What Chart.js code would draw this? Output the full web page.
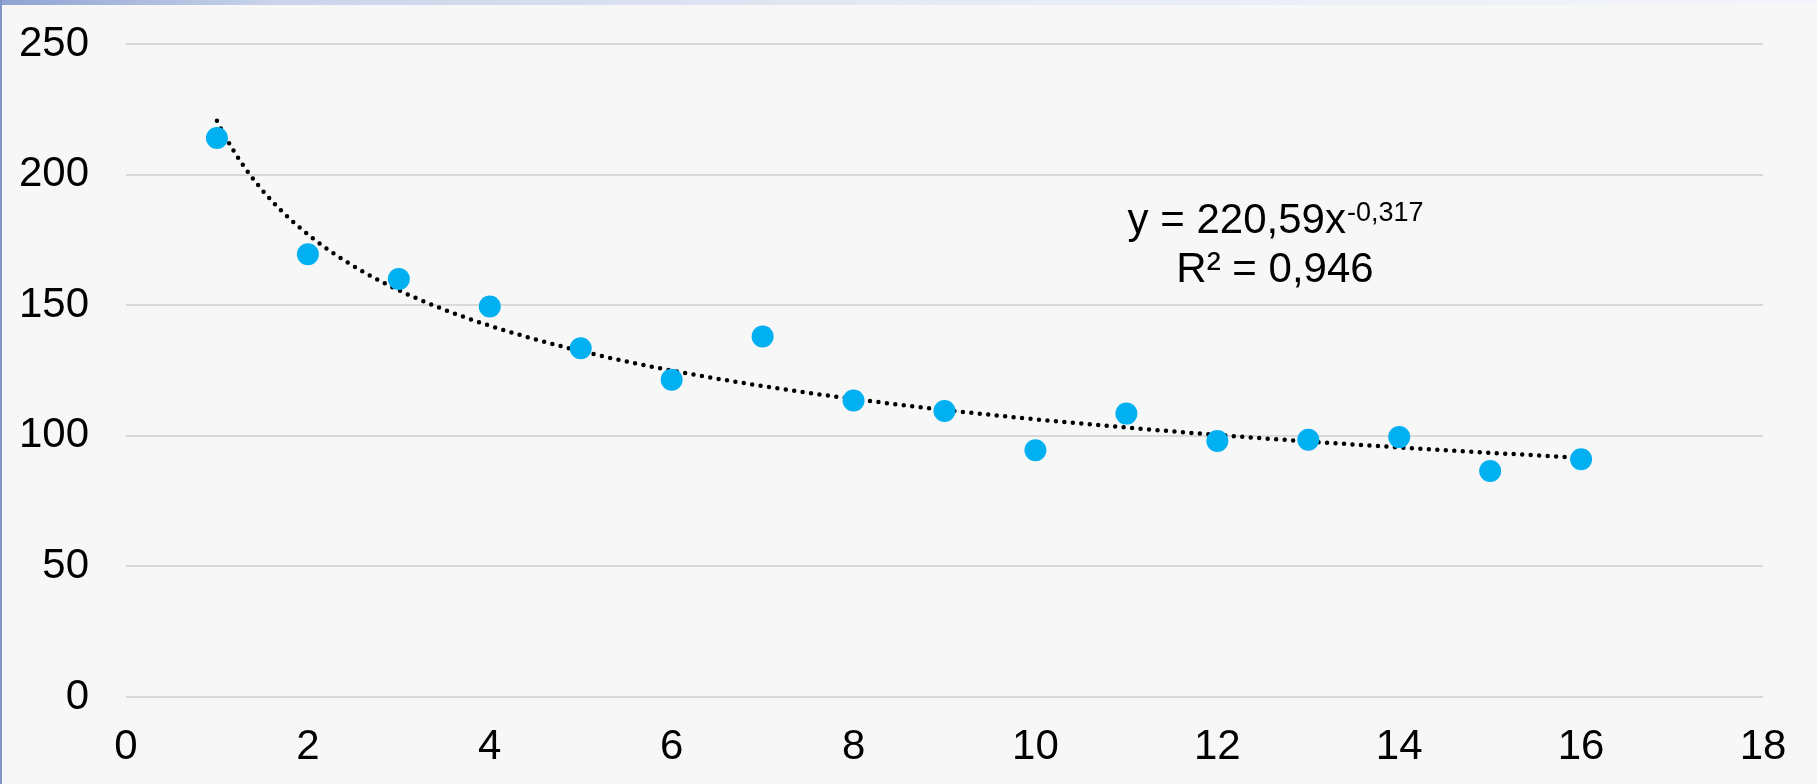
<!DOCTYPE html>
<html>
<head>
<meta charset="utf-8">
<script src="https://cdn.jsdelivr.net/npm/chart.js@4"></script>
<style>
  html, body { margin: 0; padding: 0; background: #f7f7f7; }
  #wrap { position: relative; width: 1817px; height: 784px; }
</style>
</head>
<body>
<div id="wrap"><canvas id="chart" width="1817" height="784"></canvas></div>
<script>
// x values of the measurements
const xValues = [1, 2, 3, 4, 5, 6, 7, 8, 9, 10, 11, 12, 13, 14, 15, 16];
const yValues = [214, 169.5, 160, 149.5, 133.5, 121.5, 138, 113.5, 109.5, 94.5, 108.5, 98, 98.5, 99.5, 86.5, 91];
// power trendline y = a * x^b, as printed on the chart
const trendA = 220.59;
const trendB = -0.317;
const trendR2 = '0,946';
const xTicks = [0, 2, 4, 6, 8, 10, 12, 14, 16, 18];
const yTicks = [0, 50, 100, 150, 200, 250];

const points = xValues.map((x, i) => ({ x: x, y: yValues[i] }));

// trendline sampled over the data range
const trend = [];
for (let x = xValues[0]; x <= xValues[xValues.length - 1] + 1e-9; x += 0.05) {
    trend.push({ x: x, y: trendA * Math.pow(x, trendB) });
}

const fmt = n => String(n).replace('.', ',');
const FONT = '"Liberation Sans", Arial, sans-serif';

// page frame: blue strips at the top and left edge
const framePlugin = {
    id: 'frame',
    beforeDraw(chart) {
        const ctx = chart.ctx;
        ctx.save();
        const g = ctx.createLinearGradient(0, 0, chart.width, 0);
        g.addColorStop(0, '#8ea3d2');
        g.addColorStop(0.15, '#c9d3ea');
        g.addColorStop(0.5, '#e6eaf4');
        g.addColorStop(1, '#f3f5fa');
        ctx.fillStyle = g;
        ctx.fillRect(0, 0, chart.width, 5);
        ctx.fillStyle = '#7f96c9';
        ctx.fillRect(0, 0, 2, chart.height);
        ctx.restore();
    }
};

// trendline equation label
const equationPlugin = {
    id: 'equation',
    afterDraw(chart) {
        const ctx = chart.ctx;
        ctx.save();
        ctx.fillStyle = '#000000';
        ctx.textBaseline = 'alphabetic';
        const cx = 1275;
        const main = 'y = ' + fmt(trendA) + 'x';
        const sup = fmt(trendB);
        ctx.font = '42px ' + FONT;
        const wMain = ctx.measureText(main).width;
        ctx.font = '27px ' + FONT;
        const wSup = ctx.measureText(sup).width;
        const x0 = cx - (wMain + wSup) / 2;
        ctx.textAlign = 'left';
        ctx.font = '42px ' + FONT;
        ctx.fillText(main, x0, 233);
        ctx.font = '27px ' + FONT;
        ctx.fillText(sup, x0 + wMain + 1, 221);
        ctx.font = '42px ' + FONT;
        ctx.textAlign = 'center';
        ctx.fillText('R² = ' + trendR2, cx, 282);
        ctx.restore();
    }
};

new Chart(document.getElementById('chart'), {
    type: 'scatter',
    data: {
        datasets: [
            {
                label: 'Trend',
                type: 'line',
                data: trend,
                borderColor: '#000000',
                borderWidth: 4.5,
                borderDash: [0, 8.5],
                borderCapStyle: 'round',
                pointRadius: 0,
                fill: false,
                tension: 0,
                order: 2
            },
            {
                label: 'Data',
                data: points,
                backgroundColor: '#00b0f0',
                borderWidth: 0,
                pointRadius: 11,
                order: 1
            }
        ]
    },
    options: {
        responsive: false,
        animation: false,
        layout: { padding: { left: 0, top: 44, right: 54, bottom: 0 } },
        plugins: {
            legend: { display: false },
            tooltip: { enabled: false }
        },
        scales: {
            x: {
                type: 'linear',
                min: 0,
                max: 18,
                afterBuildTicks: scale => { scale.ticks = xTicks.map(v => ({ value: v })); },
                afterFit: scale => { scale.height = 87; },
                grid: { display: false, drawTicks: false },
                border: { display: false },
                ticks: {
                    padding: 25,
                    color: '#000000',
                    font: { family: FONT, size: 42 }
                }
            },
            y: {
                min: 0,
                max: 250,
                afterBuildTicks: scale => { scale.ticks = yTicks.map(v => ({ value: v })); },
                afterFit: scale => {
                    scale.width = 126;
                    scale.paddingTop = 0;
                    scale.paddingBottom = 0;
                },
                grid: { color: '#d9d9d9', lineWidth: 2, drawTicks: false },
                border: { display: false },
                ticks: {
                    padding: 37,
                    color: '#000000',
                    font: { family: FONT, size: 42 }
                }
            }
        }
    },
    plugins: [framePlugin, equationPlugin]
});
</script>
</body>
</html>
